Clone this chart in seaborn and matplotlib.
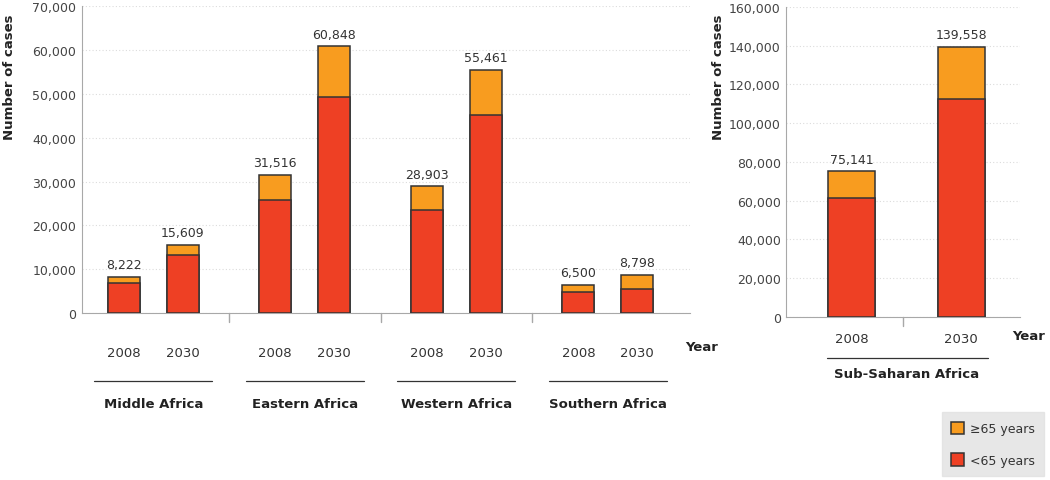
import numpy as np
import pandas as pd
import matplotlib.pyplot as plt
import seaborn as sns
from matplotlib.patches import Patch
from matplotlib.lines import Line2D

# ==========================================
# DATA
# ==========================================

regions = ["Middle Africa", "Eastern Africa", "Western Africa", "Southern Africa"]
years = ["2008", "2030"]
totals = [8222, 15609, 31516, 60848, 28903, 55461, 6500, 8798]
under65 = [6900, 13300, 25800, 49300, 23600, 45200, 4900, 5600]

ssa_label = "Sub-Saharan Africa"
ssa_totals = [75141, 139558]
ssa_under65 = [61400, 112300]

ORANGE = "#F89C1F"
RED = "#EE4024"
EDGE = "#333333"
AXIS = "#a8a8a8"

sns.set_style("white")
plt.rcParams["font.family"] = ["DejaVu Sans"]

# bar positions: pairs of bars per region, regions spaced apart
group_gap = 2.57
pos = []
for g in range(len(regions)):
    for j in range(len(years)):
        pos.append(g * group_gap + j)

df = pd.DataFrame({
    "pos": pos,
    "total": totals,
    "under65": under65,
    "year": years * len(regions),
})
df_ssa = pd.DataFrame({"pos": [0, 1], "total": ssa_totals, "under65": ssa_under65})

fig = plt.figure(figsize=(10.5, 4.81), dpi=100)
ax1 = fig.add_axes([0.078, 0.347, 0.579, 0.638])
ax2 = fig.add_axes([0.749, 0.339, 0.222, 0.6445])


def draw_stack(ax, data, width):
    sns.barplot(data=data, x="pos", y="total", native_scale=True, color=ORANGE,
                saturation=1, width=width, edgecolor=EDGE, linewidth=1.1, ax=ax, zorder=3)
    sns.barplot(data=data, x="pos", y="under65", native_scale=True, color=RED,
                saturation=1, width=width, edgecolor=EDGE, linewidth=1.1, ax=ax, zorder=4)
    for p, t in zip(data["pos"], data["total"]):
        ax.annotate(f"{t:,}", (p, t), xytext=(0, 4), textcoords="offset points",
                    ha="center", va="bottom", fontsize=9, color="#333333")


def style_axis(ax, ymax, ystep):
    ax.set_ylim(0, ymax)
    ticks = np.arange(0, ymax + 1, ystep)
    ax.set_yticks(ticks)
    ax.set_yticklabels([f"{int(t):,}" for t in ticks], fontsize=9, color="#444444")
    ax.yaxis.grid(True, linestyle=(0, (1, 2)), color="#dcdcdc", linewidth=0.8)
    ax.set_axisbelow(True)
    for s in ["top", "right"]:
        ax.spines[s].set_visible(False)
    ax.spines["left"].set_color(AXIS)
    ax.spines["bottom"].set_color(AXIS)
    ax.tick_params(axis="y", length=0, pad=4)
    ax.set_xlabel("")
    ax.set_ylabel("")


# ==========================================
# LEFT PANEL - REGIONS
# ==========================================

draw_stack(ax1, df, 0.54)
style_axis(ax1, 70000, 10000)
ax1.set_xlim(-0.71, 9.6)
ax1.set_xticks(pos)
ax1.set_xticklabels(df["year"], fontsize=9.5, color="#333333")
ax1.tick_params(axis="x", length=0, pad=24)

for g, name in enumerate(regions):
    c = g * group_gap + 0.5
    ax1.add_line(Line2D([c - 1.0, c + 1.0], [-0.221, -0.221], color="#333333", linewidth=0.9,
                        transform=ax1.get_xaxis_transform(), clip_on=False))
    ax1.text(c, -0.293, name, transform=ax1.get_xaxis_transform(), ha="center", va="center",
             fontsize=9.5, fontweight="bold", color="#222222")
    if g > 0:
        sep = c - group_gap / 2
        ax1.add_line(Line2D([sep, sep], [0, -0.03], color=AXIS, linewidth=1,
                            transform=ax1.get_xaxis_transform(), clip_on=False))

ax1.text(0.993, -0.11, "Year", transform=ax1.transAxes, ha="left", va="center",
         fontsize=9.5, fontweight="bold", color="#222222")

# ==========================================
# RIGHT PANEL - SUB-SAHARAN AFRICA
# ==========================================

draw_stack(ax2, df_ssa, 0.43)
style_axis(ax2, 160000, 20000)
ax2.set_xlim(-0.59, 1.53)
ax2.set_xticks([0, 1])
ax2.set_xticklabels(years, fontsize=9.5, color="#333333")
ax2.tick_params(axis="x", length=0, pad=11)
ax2.add_line(Line2D([0.47, 0.47], [0, -0.03], color=AXIS, linewidth=1,
                    transform=ax2.get_xaxis_transform(), clip_on=False))
ax2.add_line(Line2D([-0.22, 1.24], [-0.132, -0.132], color="#333333", linewidth=0.9,
                    transform=ax2.get_xaxis_transform(), clip_on=False))
ax2.text(0.5, -0.184, ssa_label, transform=ax2.get_xaxis_transform(), ha="center", va="center",
         fontsize=9.5, fontweight="bold", color="#222222")
ax2.text(0.97, -0.061, "Year", transform=ax2.transAxes, ha="left", va="center",
         fontsize=9.5, fontweight="bold", color="#222222")

# y labels
fig.text(0.009, 0.84, "Number of cases", rotation=90, ha="center", va="center",
         fontsize=9.5, fontweight="bold", color="#222222")
fig.text(0.684, 0.84, "Number of cases", rotation=90, ha="center", va="center",
         fontsize=9.5, fontweight="bold", color="#222222")

# ==========================================
# LEGEND
# ==========================================

handles = [Patch(facecolor=ORANGE, edgecolor=EDGE, linewidth=1.1, label="\u226565 years"),
           Patch(facecolor=RED, edgecolor=EDGE, linewidth=1.1, label="<65 years")]
leg = fig.legend(handles=handles, loc="upper left", bbox_to_anchor=(0.897, 0.141),
                 frameon=True, fancybox=False, fontsize=9, labelspacing=1.45,
                 handlelength=1.0, handleheight=1.2, handletextpad=0.5,
                 borderpad=0.75, borderaxespad=0)
leg.get_frame().set_facecolor("#e1e1e1")
leg.get_frame().set_edgecolor("#e1e1e1")
for t in leg.get_texts():
    t.set_color("#333333")

plt.savefig("out.png", dpi=100)
